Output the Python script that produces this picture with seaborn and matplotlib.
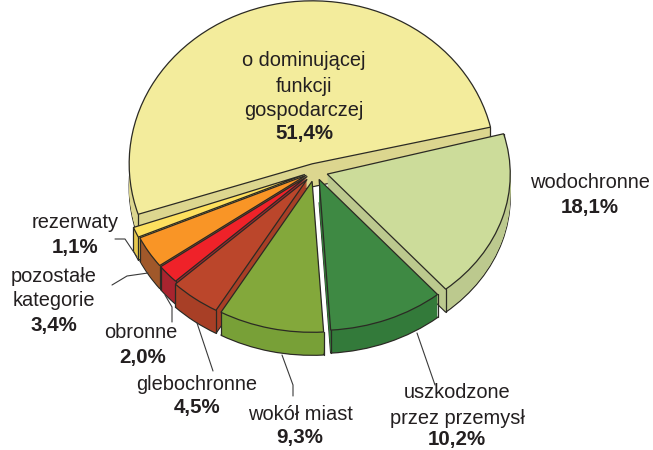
import matplotlib
matplotlib.use('Agg')
import matplotlib.pyplot as plt
from matplotlib.transforms import Affine2D
import numpy as np
import seaborn as sns

sns.set_theme(style="white")
plt.rcParams['font.family'] = ['Liberation Sans', 'DejaVu Sans']

# Slices, counterclockwise from the back one
names = ['o dominującej funkcji gospodarczej', 'rezerwaty', 'pozostałe kategorie', 'obronne',
         'glebochronne', 'wokół miast', 'uszkodzone przez przemysł', 'wodochronne']
values = [51.4, 1.1, 3.4, 2.0, 4.5, 9.3, 10.2, 18.1]
explode = [0.05, 0.06, 0.055, 0.055, 0.07, 0.07, 0.06, 0.07]
top_colors = ['#f3ec9c', '#fde05f', '#f99526', '#ef2229', '#bb462b', '#83a83b', '#3e8943', '#ccdc9a']
side_colors = ['#dcd68f', '#e8c94f', '#a0582a', '#a8242f', '#a83f26', '#78a037', '#337a3a', '#bcc98e']
draw_order = [0, 7, 6, 1, 2, 3, 4, 5]

# label text, x, y, bold (pixels of the reference)
labels = [
    ('o dominującej', 304, 61, False), ('funkcji', 304, 86, False), ('gospodarczej', 304, 110, False),
    ('51,4%', 304, 134, True),
    ('wodochronne', 590, 183, False), ('18,1%', 590, 207, True),
    ('rezerwaty', 75, 223, False), ('1,1%', 75, 248, True),
    ('pozostałe', 54, 277, False), ('kategorie', 54, 301, False), ('3,4%', 54, 325, True),
    ('obronne', 141, 333, False), ('2,0%', 143, 357, True),
    ('glebochronne', 197, 384, False), ('4,5%', 197, 408, True),
    ('wokół miast', 300, 414, False), ('9,3%', 300, 437, True),
    ('uszkodzone', 457, 393, False), ('przez przemysł', 457, 418, False), ('10,2%', 457, 440, True),
]
leaders = [
    [(115, 239), (125, 239), (137, 257)],
    [(112, 285), (127, 276), (148, 273)],
    [(172, 322), (172, 307), (165, 295)],
    [(213, 371), (197, 323)],
    [(293, 396), (293, 385), (282, 355)],
    [(435, 385), (417, 333)],
]

W, H = 653, 450
CX, CY = 315, 171     # pie centre in pixels
A, B = 183, 151       # ellipse semi axes in pixels
BACK_STRETCH = 163 / 151  # the far half looks a bit taller
BACK_TURN = -2.5      # far slice keeps its own angle
START = 15.5
DEPTH = 23
EDGE = '#2b2a24'

fig = plt.figure(figsize=(W / 100, H / 100), dpi=100)
ax = fig.add_axes([0, 0, 1, 1])


def to_data(px, py):
    return (px - CX) / A, (CY - py) / B


def draw_layer(layer, colors, edge, lw, z):
    wedges, _ = ax.pie(values, explode=explode, colors=colors, startangle=START, counterclock=True,
                       center=(0, -layer / B), radius=1,
                       wedgeprops={'edgecolor': edge, 'linewidth': lw})
    for i, w in enumerate(wedges):
        w.set_zorder(draw_order.index(i) * 10 + z)
    w = wedges[0]
    xc, yc = w.center
    w.set_transform(Affine2D().translate(-xc, -yc).rotate_deg(BACK_TURN).scale(1, BACK_STRETCH)
                    .translate(xc, yc) + ax.transData)
    return wedges


# side walls: stack of darker copies, bottom one outlined
draw_layer(DEPTH, side_colors, EDGE, 0.9, 1)
for layer in range(DEPTH - 1, 0, -1):
    draw_layer(layer, side_colors, 'none', 0, 2)
top = draw_layer(0, top_colors, EDGE, 0.9, 5)

# vertical edges at the corners of the outer walls
for i, w in enumerate(top):
    for th in (w.theta1, w.theta2):
        if i == 0:
            th = th + BACK_TURN
        scale = BACK_STRETCH if i == 0 else 1
        x = w.center[0] + np.cos(np.radians(th))
        y = w.center[1] + np.sin(np.radians(th)) * scale
        ax.plot([x, x], [y, y - DEPTH / B], color=EDGE, lw=0.9, zorder=draw_order.index(i) * 10 + 4)

for pts in leaders:
    xy = [to_data(*p) for p in pts]
    ax.plot([p[0] for p in xy], [p[1] for p in xy], color='#3a3a3a', lw=0.8, zorder=200)

ax.set_xlim(-CX / A, (W - CX) / A)
ax.set_ylim((CY - H) / B, CY / B)
ax.set_aspect('auto')
ax.axis('off')

for txt, px, py, bold in labels:
    x, y = to_data(px, py)
    ax.text(x, y, txt, ha='center', va='center', fontsize=14.8 if bold else 14.4, color='#231f20',
            fontweight='bold' if bold else 'normal', zorder=300)

fig.savefig('out.png', dpi=100)
